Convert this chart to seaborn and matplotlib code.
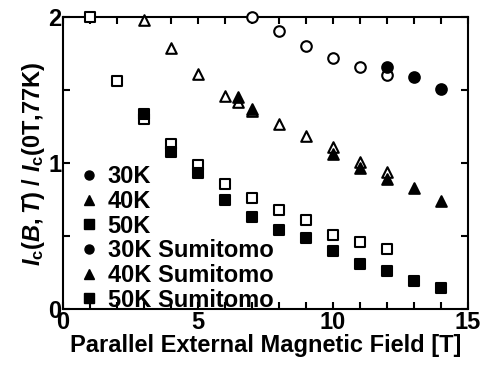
import matplotlib
matplotlib.use("Agg")
import matplotlib.pyplot as plt
import seaborn as sns
import pandas as pd
from matplotlib.lines import Line2D
from matplotlib.ticker import MultipleLocator

# ---- data ----
b_30k = [12, 13, 14]
ic_30k = [1.66, 1.59, 1.51]
b_30k_s = [7, 8, 9, 10, 11, 12]
ic_30k_s = [2.0, 1.905, 1.80, 1.72, 1.655, 1.60]
b_40k = [6.5, 7, 10, 11, 12, 13, 14]
ic_40k = [1.45, 1.37, 1.06, 0.97, 0.89, 0.83, 0.74]
b_40k_s = [3, 4, 5, 6, 6.5, 7, 8, 9, 10, 11, 12]
ic_40k_s = [1.98, 1.79, 1.61, 1.46, 1.42, 1.355, 1.265, 1.185, 1.11, 1.01, 0.94]
b_50k = [3, 4, 5, 6, 7, 8, 9, 10, 11, 12, 13, 14]
ic_50k = [1.335, 1.075, 0.93, 0.75, 0.635, 0.545, 0.49, 0.40, 0.31, 0.265, 0.195, 0.145]
b_50k_s = [1, 2, 3, 4, 5, 6, 7, 8, 9, 10, 11, 12]
ic_50k_s = [2.0, 1.565, 1.305, 1.13, 0.99, 0.86, 0.76, 0.68, 0.61, 0.51, 0.46, 0.415]

labels = ["30K", "40K", "50K", "30K Sumitomo", "40K Sumitomo", "50K Sumitomo"]

sns.set_theme(style="ticks")
plt.rcParams['font.family'] = ['Liberation Sans', 'DejaVu Sans']
plt.rcParams['font.weight'] = 'bold'
plt.rcParams['text.color'] = 'black'
plt.rcParams['axes.labelcolor'] = 'black'
plt.rcParams['axes.edgecolor'] = 'black'
plt.rcParams['xtick.color'] = 'black'
plt.rcParams['ytick.color'] = 'black'
plt.rcParams['mathtext.fontset'] = 'custom'
plt.rcParams['mathtext.rm'] = 'Liberation Sans:bold'
plt.rcParams['mathtext.it'] = 'Liberation Sans:italic:bold'
plt.rcParams['mathtext.bf'] = 'Liberation Sans:bold'

FS = 17

fig = plt.figure(figsize=(4.83, 3.68), dpi=100)
ax = fig.add_axes([0.130, 0.159, 0.839, 0.795])

series = [
    (b_50k_s, ic_50k_s, 's', False),
    (b_40k_s, ic_40k_s, '^', False),
    (b_30k_s, ic_30k_s, 'o', False),
    (b_50k, ic_50k, 's', True),
    (b_40k, ic_40k, '^', True),
    (b_30k, ic_30k, 'o', True),
]
for bx, vy, mk, filled in series:
    df = pd.DataFrame({"B": bx, "Ic": vy})
    sns.scatterplot(data=df, x="B", y="Ic", ax=ax, marker=mk, s=58,
                    facecolor='black' if filled else 'white',
                    edgecolor='black', linewidth=1.5, clip_on=False,
                    zorder=3, legend=False)

ax.set_xlim(0, 15)
ax.set_ylim(0, 2)
ax.xaxis.set_major_locator(MultipleLocator(5))
ax.xaxis.set_minor_locator(MultipleLocator(1))
ax.yaxis.set_major_locator(MultipleLocator(1))
ax.yaxis.set_minor_locator(MultipleLocator(0.5))
ax.tick_params(which='both', direction='in', top=True, right=True,
               width=1.5, labelsize=FS, pad=1)
ax.tick_params(which='major', length=5)
ax.tick_params(which='minor', length=5)
for sp in ax.spines.values():
    sp.set_linewidth(1.5)
for lab in ax.get_xticklabels() + ax.get_yticklabels():
    lab.set_fontweight('bold')

ax.set_xlabel("Parallel External Magnetic Field [T]", fontsize=FS,
              fontweight='bold', labelpad=0)
ax.set_ylabel(r"$I_{\rm c}(B,T)$ / $I_{\rm c}$(0T,77K)", fontsize=FS,
              fontweight='bold', labelpad=1)

mk_list = ['o', '^', 's', 'o', '^', 's']
handles = [Line2D([], [], linestyle='none', marker=m, color='black',
                  markersize=6.5) for m in mk_list]
ax.legend(handles, labels, loc='lower left', bbox_to_anchor=(0.035, -0.015),
          frameon=False, prop={'size': FS, 'weight': 'bold'},
          handlelength=0.8, handletextpad=0.4, labelspacing=0.07,
          borderaxespad=0.0, borderpad=0.1)

fig.savefig("out.png", dpi=100)
